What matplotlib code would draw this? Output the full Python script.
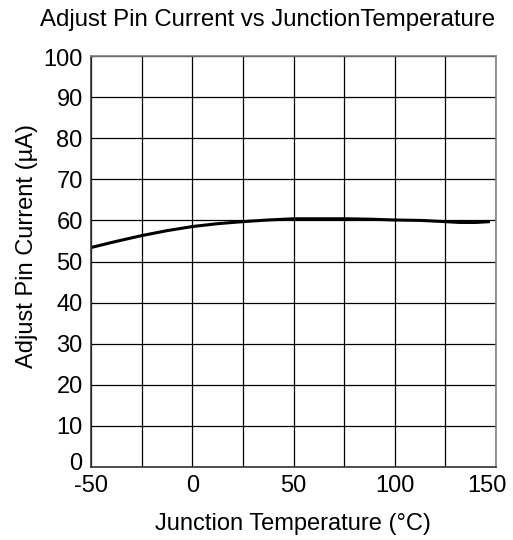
import matplotlib
matplotlib.use("Agg")
import matplotlib.pyplot as plt
from matplotlib.transforms import ScaledTranslation

temps = [-50, -37.5, -25, -12.5, 0, 12.5, 25, 37.5, 50, 62.5, 75, 87.5, 100, 112.5, 125, 132, 140, 147]
current = [53.4, 54.9, 56.3, 57.5, 58.5, 59.2, 59.7, 60.1, 60.4, 60.4, 60.4, 60.3, 60.1, 60.0, 59.7, 59.5, 59.5, 59.7]

x_ticks = [-50, 0, 50, 100, 150]
x_grid = [-50, -25, 0, 25, 50, 75, 100, 125, 150]
y_ticks = [0, 10, 20, 30, 40, 50, 60, 70, 80, 90, 100]

plt.rcParams['font.family'] = ['Liberation Sans', 'DejaVu Sans']
plt.rcParams['axes.unicode_minus'] = False

W, H = 513, 540
fig = plt.figure(figsize=(W / 100, H / 100), dpi=100)
ax = fig.add_axes([91 / W, 1 - 467 / H, (496 - 91) / W, (467 - 56) / H])

for xv in x_grid:
    ax.axvline(xv, color='black', lw=0.9, zorder=1)
for yv in y_ticks:
    ax.axhline(yv, color='black', lw=0.9, zorder=1)

ax.plot(temps, current, color='black', lw=2.2, zorder=3, solid_capstyle='butt')

ax.set_xlim(-50, 150)
ax.set_ylim(0, 100)
ax.set_xticks(x_ticks)
ax.set_yticks(y_ticks)
ax.tick_params(length=0, labelsize=17)
ax.tick_params(axis='y', pad=6)
ax.tick_params(axis='x', pad=6)
ax.spines['left'].set_color('#333333')
ax.spines['bottom'].set_color('#333333')
ax.spines['top'].set_color('#808080')
ax.spines['right'].set_color('#808080')
for s in ax.spines.values():
    s.set_linewidth(1.2)
    s.set_zorder(4)

fig.canvas.draw()
xl = ax.get_xticklabels()
xl[-1].set_transform(xl[-1].get_transform() + ScaledTranslation(-9 / 100, 0, fig.dpi_scale_trans))
yl = ax.get_yticklabels()
yl[0].set_transform(yl[0].get_transform() + ScaledTranslation(0, 5 / 100, fig.dpi_scale_trans))
yl[-1].set_transform(yl[-1].get_transform() + ScaledTranslation(0, -2 / 100, fig.dpi_scale_trans))

fig.text(293 / W, 1 - 530 / H, 'Junction Temperature (°C)', fontsize=17, ha='center', va='baseline')
fig.text(27 / W, 1 - 246 / H, 'Adjust Pin Current (µA)', fontsize=17, ha='center', va='center', rotation=90)
fig.text(268 / W, 1 - 26 / H, 'Adjust Pin Current vs JunctionTemperature', fontsize=17.3, ha='center', va='baseline')

fig.savefig('out.png', dpi=100)
